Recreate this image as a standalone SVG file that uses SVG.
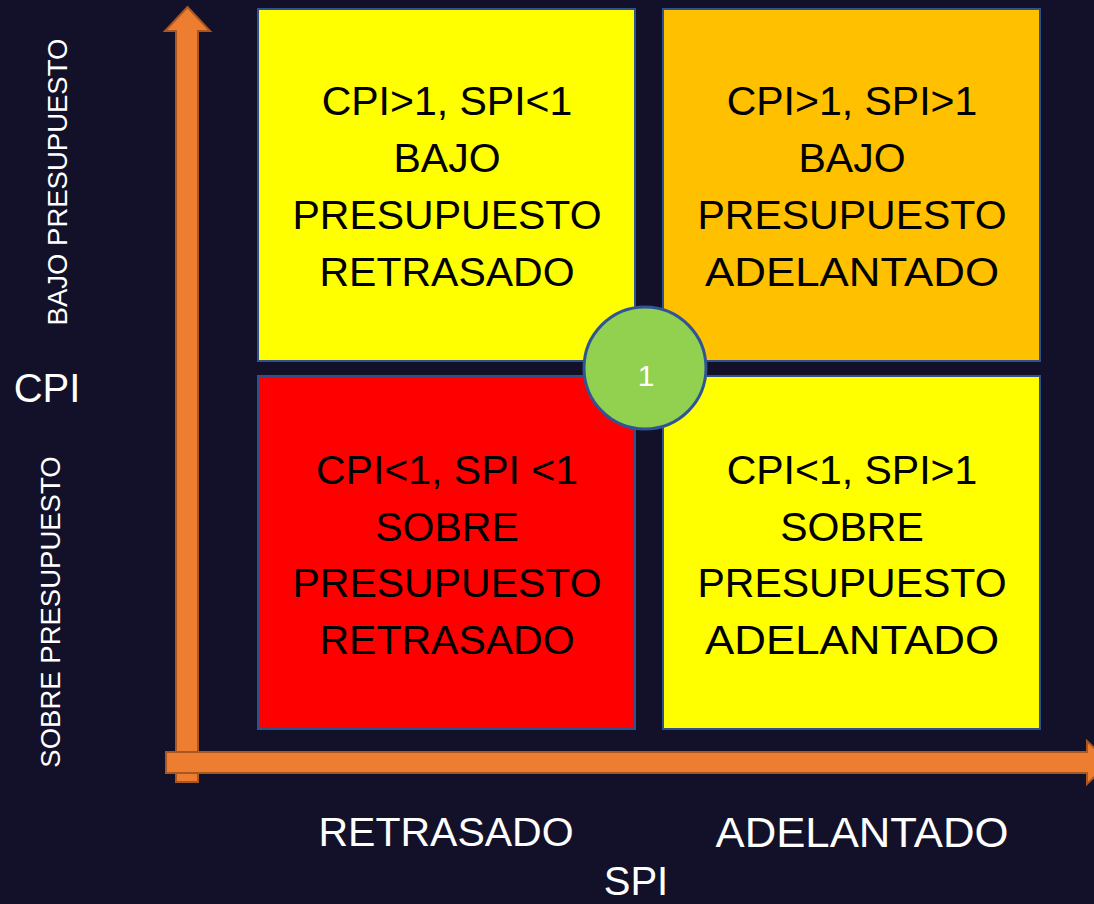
<svg xmlns="http://www.w3.org/2000/svg" width="1094" height="904" viewBox="0 0 1094 904">
<style>
.box{stroke:#2F528F;stroke-width:2}
.bt{font-family:"Liberation Sans",Arial,sans-serif;font-size:41px;fill:#000;text-anchor:middle}
.lab{font-family:"Liberation Sans",Arial,sans-serif;fill:#fff;text-anchor:middle}
.arrow{fill:#ED7D31;stroke:#A9571E;stroke-width:2}
</style>
<rect x="0" y="0" width="1094" height="904" fill="#131129"/>
<g id="connectors">
<polygon class="arrow" points="176,31 165,31 187.5,7 210,31 198,31 198,782 176,782"/>
<polygon class="arrow" points="166,752 1087,752 1087,741 1110,762.5 1087,784 1087,773 166,773"/>
</g>
<g id="q-top-left">
<rect class="box" x="258" y="9" width="377" height="352" fill="#FFFF00"/>
<text class="bt" x="447" y="115">CPI&gt;1, SPI&lt;1</text>
<text class="bt" x="447" y="172">BAJO</text>
<text class="bt" x="447" y="229">PRESUPUESTO</text>
<text class="bt" x="447" y="286">RETRASADO</text>
</g>
<g id="q-top-right">
<rect class="box" x="663" y="9" width="377" height="352" fill="#FFC000"/>
<text class="bt" x="852" y="115">CPI&gt;1, SPI&gt;1</text>
<text class="bt" x="852" y="172">BAJO</text>
<text class="bt" x="852" y="229">PRESUPUESTO</text>
<text class="bt" x="852" y="286" textLength="294" lengthAdjust="spacingAndGlyphs">ADELANTADO</text>
</g>
<g id="q-bottom-left">
<rect class="box" x="258" y="376" width="377" height="353" fill="#FF0000"/>
<text class="bt" x="447" y="484">CPI&lt;1, SPI &lt;1</text>
<text class="bt" x="447" y="541">SOBRE</text>
<text class="bt" x="447" y="597">PRESUPUESTO</text>
<text class="bt" x="447" y="654">RETRASADO</text>
</g>
<g id="q-bottom-right">
<rect class="box" x="663" y="376" width="377" height="353" fill="#FFFF00"/>
<text class="bt" x="852" y="484">CPI&lt;1, SPI&gt;1</text>
<text class="bt" x="852" y="541">SOBRE</text>
<text class="bt" x="852" y="597">PRESUPUESTO</text>
<text class="bt" x="852" y="654" textLength="294" lengthAdjust="spacingAndGlyphs">ADELANTADO</text>
</g>
<g id="center">
<circle cx="645" cy="368" r="61" fill="#92D050" stroke="#2F5597" stroke-width="3"/>
<text class="lab" x="646" y="386" font-size="30">1</text>
</g>
<g id="labels">
<text class="lab" font-size="27.5" transform="translate(67,182) rotate(-90)">BAJO PRESUPUESTO</text>
<text class="lab" font-size="27.5" transform="translate(60,612) rotate(-90)">SOBRE PRESUPUESTO</text>
<text class="lab" font-size="40" x="47" y="402">CPI</text>
<text class="lab" font-size="41" x="446" y="846">RETRASADO</text>
<text class="lab" font-size="42" x="862" y="847" textLength="293" lengthAdjust="spacingAndGlyphs">ADELANTADO</text>
<text class="lab" font-size="40" x="636" y="895">SPI</text>
</g>
</svg>
